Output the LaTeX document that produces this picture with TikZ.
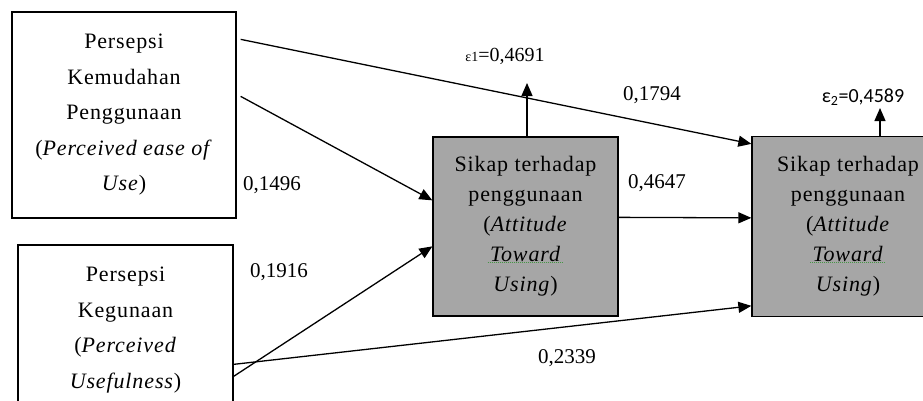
\documentclass[tikz,border=0pt]{standalone}
\usepackage{fontspec}
\setmainfont{Liberation Serif}
\newfontfamily\boxfont[LetterSpace=4]{Liberation Serif}
\newfontfamily\epsfont{Carlito}
\usetikzlibrary{arrows.meta}
\definecolor{boxgray}{RGB}{166,166,166}
\definecolor{spellgreen}{RGB}{70,150,70}

\begin{document}
\begin{tikzpicture}[x=1pt,y=-1pt,
  construct/.style={draw=black, line width=1.3pt, rectangle, inner sep=0pt,
    align=center, font=\boxfont\fontsize{22}{35.5}\selectfont},
  outcome/.style={construct, fill=boxgray, font=\boxfont\fontsize{22}{30}\selectfont},
  link/.style={line width=1.3pt, -{Triangle[length=13pt,width=11pt]}},
  coef/.style={font=\fontsize{21}{21}\selectfont, inner sep=0pt},
  spell/.style={spellgreen, line width=1pt, densely dotted}]

\useasboundingbox (0,0) rectangle (923,400);
\clip (0,0) rectangle (923,400);

% exogenous constructs
\node[construct, minimum width=224pt, minimum height=206pt] (b1) at (124,115)
  {Persepsi\\Kemudahan\\Penggunaan\\(\textit{Perceived ease of}\\\textit{Use})};
\node[construct, minimum width=215pt, minimum height=170pt] (b2) at (125.5,330)
  {Persepsi\\Kegunaan\\(\textit{Perceived}\\\textit{Usefulness})};

% endogenous constructs
\node[outcome, minimum width=185pt, minimum height=179pt] (b3) at (525.5,226.5)
  {Sikap terhadap\\penggunaan\\(\textit{Attitude}\\\textit{Toward}\\\textit{Using})};
\node[outcome, minimum width=192pt, minimum height=180pt] (b4) at (848,226.5)
  {Sikap terhadap\\penggunaan\\(\textit{Attitude}\\\textit{Toward}\\\textit{Using})};

% spelling marks under "Toward"
\draw[spell] ([shift={(-38,36)}]b3.center) -- ++(76,0);
\draw[spell] ([shift={(-38,36)}]b4.center) -- ++(76,0);

% residual terms
\coordinate (e1) at (527,83);
\coordinate (e2) at (880,108);
\node[font=\fontsize{20}{20}\selectfont, inner sep=0pt] (e1lab) at (505,56)
  {{\fontsize{14}{14}\selectfont ε1}=0,4691};
\node[font=\epsfont\fontsize{20}{20}\selectfont, inner sep=0pt] (e2lab) at (863,97)
  {ε\textsubscript{2}=0,4589};

% structural paths
\draw[link] ([shift={(4,28)}]b1.north east) -- ([shift={(0,8)}]b4.north west);
\draw[link] ([shift={(4,85)}]b1.north east) -- ([shift={(0,64)}]b3.north west);
\draw[link] ([shift={(0,132)}]b2.north east) -- ([shift={(0,110)}]b3.north west);
\draw[link] ([shift={(0,120)}]b2.north east) -- ([shift={(0,170)}]b4.north west);
\draw[link] ([shift={(0,81)}]b3.north east) -- ([shift={(0,82)}]b4.north west);
\draw[link] ([xshift=1.5pt]b3.north) -- (e1);
\draw[link] ([xshift=32pt]b4.north) -- (e2);

% path coefficients
\node[coef] (c1794) at (652,95) {0,1794};
\node[coef] (c1496) at (272,185) {0,1496};
\node[coef] (c1916) at (279,272) {0,1916};
\node[coef] (c4647) at (657,183) {0,4647};
\node[coef] (c2339) at (567,358) {0,2339};
\end{tikzpicture}
\end{document}
